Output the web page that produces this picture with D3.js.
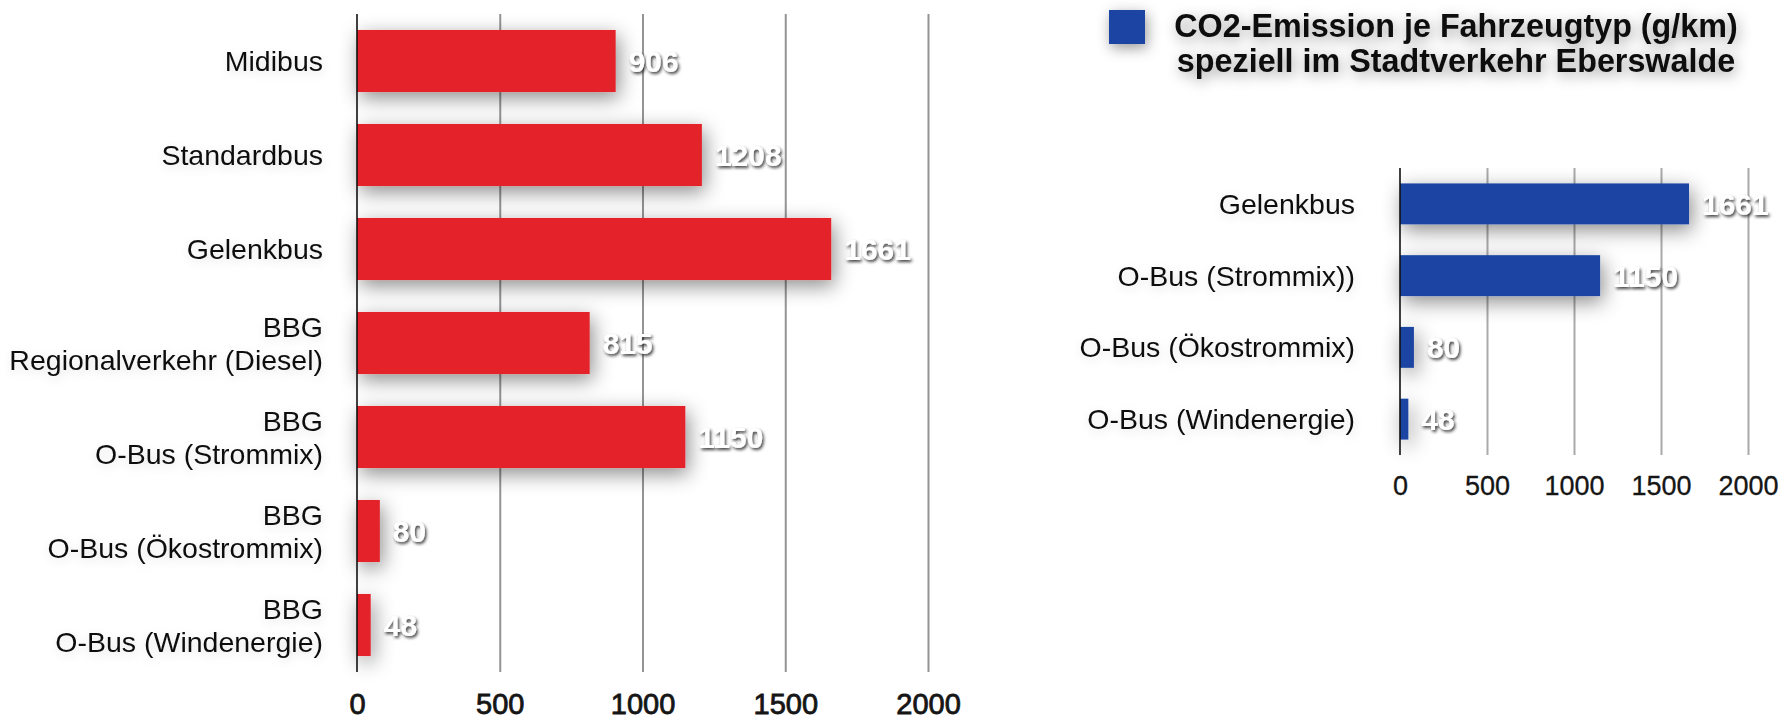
<!DOCTYPE html>
<html>
<head>
<meta charset="utf-8">
<script src="https://cdn.jsdelivr.net/npm/d3@7/dist/d3.min.js"></script>
<style>
  html, body { margin: 0; padding: 0; background: #fff; }
  svg { display: block; }
  text { font-family: "Liberation Sans", Arial, Helvetica, sans-serif; }
</style>
</head>
<body>
<svg id="chart" width="1791" height="721"></svg>
<script>
// CO2 emissions per vehicle type (g/km)
const allCategories = [
  ["Midibus"],
  ["Standardbus"],
  ["Gelenkbus"],
  ["BBG", "Regionalverkehr (Diesel)"],
  ["BBG", "O-Bus (Strommix)"],
  ["BBG", "O-Bus (Ökostrommix)"],
  ["BBG", "O-Bus (Windenergie)"]
];
const allValues = [906, 1208, 1661, 815, 1150, 80, 48];

// Urban traffic in Eberswalde only
const cityCategories = ["Gelenkbus", "O-Bus (Strommix))", "O-Bus (Ökostrommix)", "O-Bus (Windenergie)"];
const cityValues = [1661, 1150, 80, 48];

const tickValues = [0, 500, 1000, 1500, 2000];
const legendLines = ["CO2-Emission je Fahrzeugtyp (g/km)", "speziell im Stadtverkehr Eberswalde"];

const RED = "#e3222a";
const BLUE = "#1c45a3";

const svg = d3.select("#chart");
svg.append("rect").attr("width", 1791).attr("height", 721).attr("fill", "#fff");

// Soft shadows used by bars, value labels and the legend
const defs = svg.append("defs");
function shadow(id, dx, dy, sd, color, op) {
  const f = defs.append("filter").attr("id", id)
    .attr("filterUnits", "userSpaceOnUse")
    .attr("x", 0).attr("y", 0).attr("width", 1791).attr("height", 721);
  f.append("feDropShadow").attr("dx", dx).attr("dy", dy)
    .attr("stdDeviation", sd).attr("flood-color", color).attr("flood-opacity", op);
}
shadow("barShadow", 3, 6, 10, "#000", 0.45);
shadow("valShadow", 1.5, 2, 1.6, "#1a1a1a", 0.85);
shadow("legendHaze", 2, 4, 7, "#000", 0.4);
shadow("labelHaze", 1, 3, 5, "#000", 0.12);

function drawChart(opts) {
  const g = svg.append("g");
  const x = d3.scaleLinear().domain([0, 2000]).range([opts.x0, opts.x1]);
  const y = d3.scaleBand().domain(d3.range(opts.values.length))
    .range([opts.yTop, opts.yBottom])
    .paddingInner(opts.padIn).paddingOuter(opts.padIn / 2);

  // vertical gridlines
  const grid = g.append("g")
    .attr("transform", `translate(0,${opts.yTop})`)
    .call(d3.axisTop(x).tickValues(tickValues.slice(1))
      .tickSize(-(opts.yBottom - opts.yTop)).tickFormat(""));
  grid.select(".domain").remove();
  grid.selectAll(".tick line").attr("stroke", opts.gridColor).attr("stroke-width", 2);

  // bars
  g.append("g").attr("filter", "url(#barShadow)")
    .selectAll("rect").data(opts.values).join("rect")
    .attr("x", x(0))
    .attr("y", (d, i) => y(i))
    .attr("width", d => x(d) - x(0))
    .attr("height", y.bandwidth())
    .attr("fill", opts.color);

  // zero axis line
  g.append("line")
    .attr("x1", x(0)).attr("x2", x(0))
    .attr("y1", opts.yTop).attr("y2", opts.yBottom)
    .attr("stroke", "#111").attr("stroke-width", 1.6);

  // tick labels
  const ax = g.append("g")
    .attr("transform", `translate(0,${opts.yBottom})`)
    .call(d3.axisBottom(x).tickValues(tickValues).tickFormat(d3.format("d"))
      .tickSize(0).tickPadding(opts.tickPad));
  ax.select(".domain").remove();
  ax.selectAll("text")
    .attr("font-family", "'Liberation Sans', Arial, sans-serif")
    .attr("font-size", opts.tickSize)
    .attr("fill", "#151515")
    .attr("stroke", "#151515").attr("stroke-width", opts.tickStroke);

  // category labels (one or two lines)
  const labels = g.append("g").attr("filter", "url(#labelHaze)")
    .selectAll("text").data(opts.categories).join("text")
    .attr("text-anchor", "end")
    .attr("font-size", opts.labelSize)
    .attr("fill", "#111")
    .attr("x", opts.labelX);
  labels.each(function (lines, i) {
    const c = y(i) + y.bandwidth() / 2;
    const t = d3.select(this);
    const arr = Array.isArray(lines) ? lines : [lines];
    const lh = 33;
    arr.forEach((ln, k) => {
      t.append("tspan")
        .attr("x", opts.labelX)
        .attr("y", c + 10 - (arr.length - 1) * lh / 2 + k * lh)
        .text(ln);
    });
  });

  // value labels
  g.append("g").attr("filter", "url(#valShadow)")
    .selectAll("text").data(opts.values).join("text")
    .attr("x", d => x(d) + 13)
    .attr("y", (d, i) => y(i) + y.bandwidth() / 2 + 11)
    .attr("font-size", 30)
    .attr("font-weight", "bold")
    .attr("fill", "#fff")
    .text(d => d);
}

drawChart({
  categories: allCategories, values: allValues,
  color: RED, x0: 357, x1: 928, yTop: 14, yBottom: 672, padIn: 0.34,
  gridColor: "#949494",
  tickSize: 29, tickPad: 21, tickStroke: 0.8, labelX: 323, labelSize: 28.5
});

drawChart({
  categories: cityCategories, values: cityValues,
  color: BLUE, x0: 1400, x1: 1748, yTop: 168, yBottom: 455, padIn: 0.43,
  gridColor: "#aaaaaa",
  tickSize: 27, tickPad: 21, tickStroke: 0.3, labelX: 1355, labelSize: 28.5
});

// legend
const legend = svg.append("g").attr("filter", "url(#legendHaze)");
legend.append("rect").attr("x", 1109).attr("y", 10).attr("width", 36).attr("height", 34).attr("fill", BLUE);
legend.selectAll("text.lg").data(legendLines).join("text")
  .attr("class", "lg")
  .attr("x", 1456)
  .attr("y", (d, i) => 37 + i * 35)
  .attr("text-anchor", "middle")
  .attr("font-size", 32.3)
  .attr("font-weight", "bold")
  .attr("fill", "#111")
  .text(d => d);
</script>
</body>
</html>
